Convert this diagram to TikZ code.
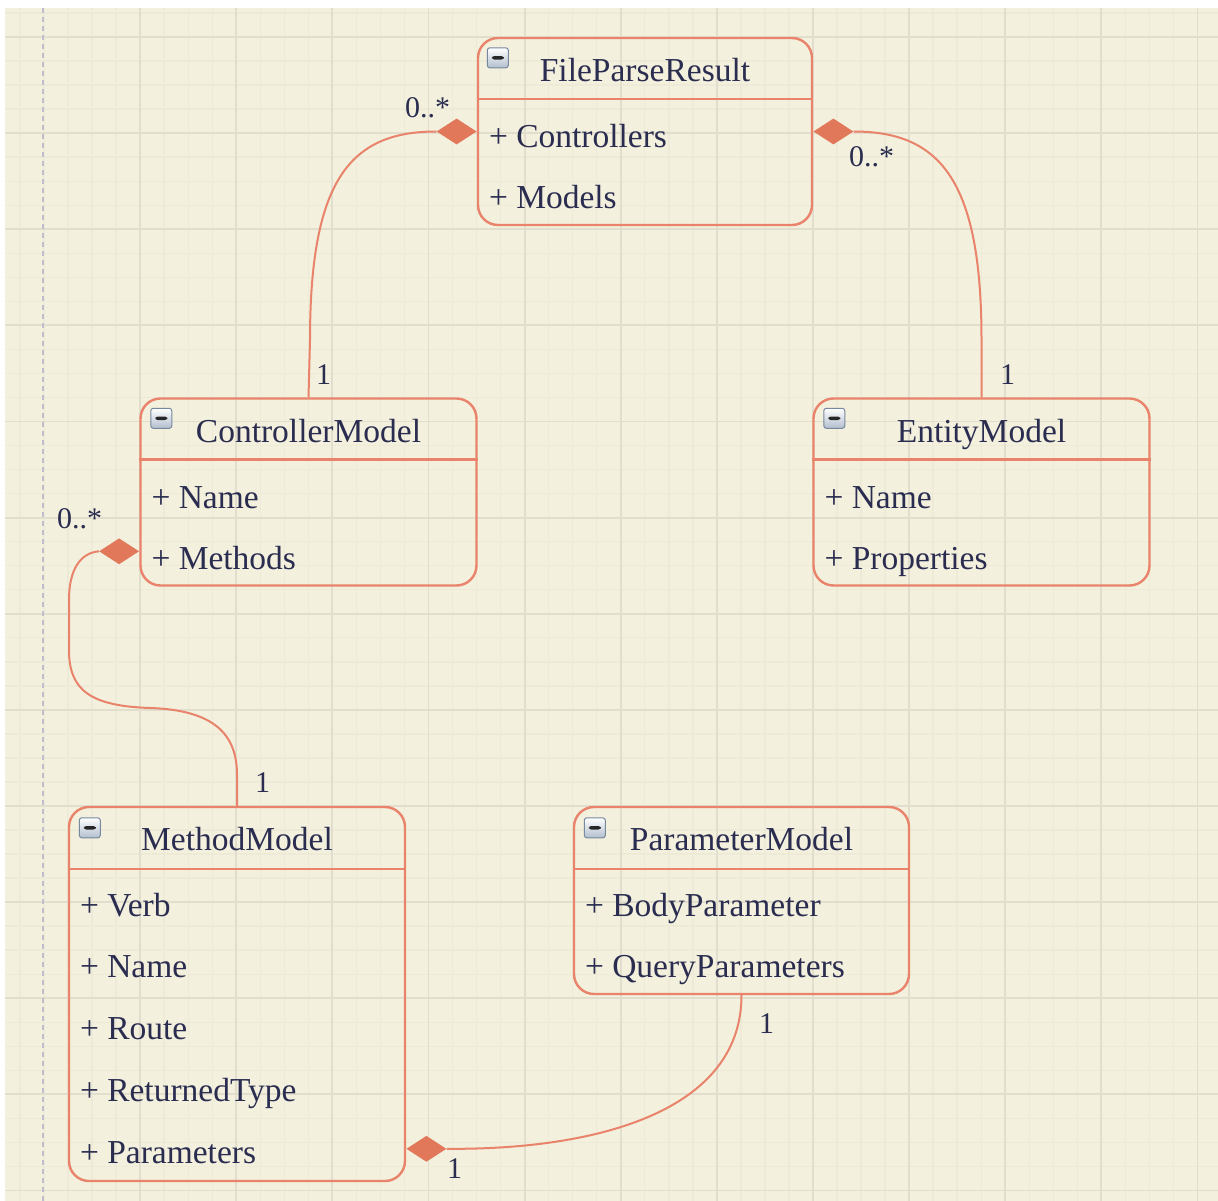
\documentclass[tikz,border=0pt]{standalone}
\usepackage{fontspec}
\setmainfont{Liberation Serif}
\usetikzlibrary{shapes.geometric,calc}

\definecolor{paper}{RGB}{243,240,221}
\definecolor{gridminor}{RGB}{237,234,215}
\definecolor{gridmajor}{RGB}{225,222,205}
\definecolor{pageline}{RGB}{190,190,204}
\definecolor{umlline}{RGB}{233,131,107}
\definecolor{umlfill}{RGB}{226,120,90}
\definecolor{umltext}{RGB}{42,44,80}
\definecolor{iconedge}{RGB}{120,136,158}
\definecolor{iconlow}{RGB}{178,190,206}

\tikzset{
  classbox/.style={draw=umlline, line width=2.4pt, rounded corners=20pt, inner sep=0pt},
  separator/.style={draw=umlline, line width=2.4pt},
  classtitle/.style={anchor=base, text=umltext, font=\fontsize{33.5}{33.5}\selectfont, inner sep=0pt},
  member/.style={anchor=base west, text=umltext, font=\fontsize{33.5}{33.5}\selectfont, inner sep=0pt},
  mult/.style={anchor=base west, text=umltext, font=\fontsize{30}{30}\selectfont, inner sep=0pt},
  assoc/.style={draw=umlline, line width=2pt},
  composite/.style={diamond, fill=umlfill, draw=none, inner sep=0pt,
    minimum width=40pt, minimum height=26pt},
  collapser/.style={rectangle, rounded corners=2.5pt, draw=iconedge, line width=1pt,
    top color=white, bottom color=iconlow, minimum width=21pt, minimum height=20pt,
    inner sep=0pt,
    path picture={\fill[black!85] ($(path picture bounding box.center)+(-6pt,-1.75pt)$)
      rectangle ++(12pt,3.5pt);}},
}

\begin{document}
\begin{tikzpicture}[x=1pt, y=-1pt]
  % canvas and grid
  \useasboundingbox (0,0) rectangle (1218,1201);
  \fill[white] (0,0) rectangle (1218,1201);
  \fill[paper] (5,8) rectangle (1218,1201);
  \begin{scope}
    \clip (5,8) rectangle (1218,1201);
    \foreach \i in {0,...,50}
      \draw[gridminor, line width=1.4pt] ({20+24.03*\i},8) -- ({20+24.03*\i},1201);
    \foreach \j in {0,...,50}
      \draw[gridminor, line width=1.4pt] (5,{13+24.03*\j}) -- (1218,{13+24.03*\j});
    \foreach \i in {5,9,...,49}
      \draw[gridmajor, line width=1.8pt] ({20+24.03*\i},8) -- ({20+24.03*\i},1201);
    \foreach \j in {1,5,...,49}
      \draw[gridmajor, line width=1.8pt] (5,{13+24.03*\j}) -- (1218,{13+24.03*\j});
    \draw[pageline, line width=1.6pt, dash pattern=on 5pt off 4pt] (43,8) -- (43,1201);
  \end{scope}

  % FileParseResult
  \node[classbox, minimum width=334pt, minimum height=187pt] (fpr) at (645,131.5) {};
  \draw[separator] ($(fpr.north west)+(0,62)$) -- ($(fpr.north east)+(0,62)$);
  \node[collapser] (fpricon) at ($(fpr.north west)+(21,21)$) {};
  \node[classtitle] (fprtitle) at ($(fpr.north)+(0,45)$) {FileParseResult};
  \node[member] (fprA) at ($(fpr.north west)+(12,111)$) {+ Controllers};
  \node[member] (fprB) at ($(fpr.north west)+(12,172)$) {+ Models};

  % ControllerModel
  \node[classbox, minimum width=336pt, minimum height=187pt] (ctrl) at (308.5,492) {};
  \draw[separator] ($(ctrl.north west)+(0,62)$) -- ($(ctrl.north east)+(0,62)$);
  \node[collapser] (ctrlicon) at ($(ctrl.north west)+(22,21)$) {};
  \node[classtitle] (ctrltitle) at ($(ctrl.north)+(0,45)$) {ControllerModel};
  \node[member] (ctrlA) at ($(ctrl.north west)+(12,111)$) {+ Name};
  \node[member] (ctrlB) at ($(ctrl.north west)+(12,172)$) {+ Methods};

  % EntityModel
  \node[classbox, minimum width=336pt, minimum height=187pt] (ent) at (981.5,492) {};
  \draw[separator] ($(ent.north west)+(0,62)$) -- ($(ent.north east)+(0,62)$);
  \node[collapser] (enticon) at ($(ent.north west)+(22,21)$) {};
  \node[classtitle] (enttitle) at ($(ent.north)+(0,45)$) {EntityModel};
  \node[member] (entA) at ($(ent.north west)+(12,111)$) {+ Name};
  \node[member] (entB) at ($(ent.north west)+(12,172)$) {+ Properties};

  % MethodModel
  \node[classbox, minimum width=336pt, minimum height=374pt] (meth) at (237,994) {};
  \draw[separator] ($(meth.north west)+(0,63)$) -- ($(meth.north east)+(0,63)$);
  \node[collapser] (methicon) at ($(meth.north west)+(22,22)$) {};
  \node[classtitle] (methtitle) at ($(meth.north)+(0,45)$) {MethodModel};
  \node[member] (methA) at ($(meth.north west)+(12,111)$) {+ Verb};
  \node[member] (methB) at ($(meth.north west)+(12,172)$) {+ Name};
  \node[member] (methC) at ($(meth.north west)+(12,234)$) {+ Route};
  \node[member] (methD) at ($(meth.north west)+(12,296)$) {+ ReturnedType};
  \node[member] (methE) at ($(meth.north west)+(12,358)$) {+ Parameters};

  % ParameterModel
  \node[classbox, minimum width=335pt, minimum height=187pt] (par) at (741.5,900.5) {};
  \draw[separator] ($(par.north west)+(0,63)$) -- ($(par.north east)+(0,63)$);
  \node[collapser] (paricon) at ($(par.north west)+(22,22)$) {};
  \node[classtitle] (partitle) at ($(par.north)+(0,45)$) {ParameterModel};
  \node[member] (parA) at ($(par.north west)+(12,111)$) {+ BodyParameter};
  \node[member] (parB) at ($(par.north west)+(12,172)$) {+ QueryParameters};

  % composition diamonds
  \node[composite, anchor=east] (dfprL) at (fpr.west) {};
  \node[composite, anchor=west] (dfprR) at (fpr.east) {};
  \node[composite, anchor=east] (dctrl) at ($(ctrl.north west)+(0,154)$) {};
  \node[composite, anchor=west] (dmeth) at ($(meth.north east)+(0,343)$) {};

  % associations
  \draw[assoc] (dfprL.west) .. controls (350,131.5) and (310,180) .. (310,340) -- (ctrl.north);
  \draw[assoc] (dfprR.east) .. controls (940,131.5) and (981.5,180) .. (981.5,340) -- (ent.north);
  \draw[assoc] (dctrl.west) .. controls (80,553) and (69,570) .. (69,600) -- (69,650)
    .. controls (69,690) and (90,706) .. (150,708)
    .. controls (215,710) and (237,735) .. (237,775) -- (meth.north);
  \draw[assoc] (dmeth.east) .. controls (600,1150) and (741.5,1110) .. (par.south);

  % multiplicities
  \node[mult] (m1) at (405,118) {0..*};
  \node[mult] (m2) at (316,384) {1};
  \node[mult] (m3) at (849,167) {0..*};
  \node[mult] (m4) at (1000,384) {1};
  \node[mult] (m5) at (57,528) {0..*};
  \node[mult] (m6) at (255,792) {1};
  \node[mult] (m7) at (759,1033) {1};
  \node[mult] (m8) at (447,1178) {1};
\end{tikzpicture}
\end{document}
